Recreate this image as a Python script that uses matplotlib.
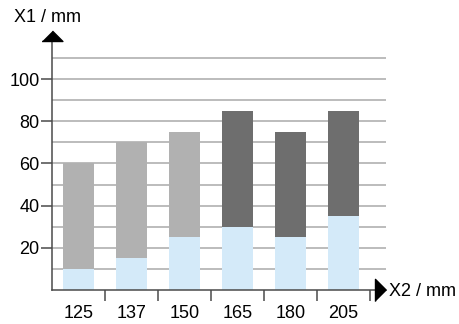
import matplotlib.pyplot as plt

plt.rcParams['font.family'] = ['Liberation Sans', 'DejaVu Sans']

categories = ['125', '137', '150', '165', '180', '205']
bottom_vals = [10, 15, 25, 30, 25, 35]
total_vals = [60, 70, 75, 85, 75, 85]
top_colors = ['#b1b1b1', '#b1b1b1', '#b1b1b1', '#6e6e6e', '#6e6e6e', '#6e6e6e']
grid_levels = [10, 20, 30, 40, 50, 60, 70, 80, 90, 100, 110]
y_ticks = [20, 40, 60, 80, 100]

fig = plt.figure(figsize=(4.59, 3.24), dpi=100)
ax = fig.add_axes([52 / 459, 34 / 324, 334 / 459, 253.2 / 324])

x = list(range(len(categories)))
top_vals = [t - b for t, b in zip(total_vals, bottom_vals)]

ax.hlines(grid_levels, -0.5, 5.8, color='#aaaaaa', lw=1.1, zorder=0)
ax.bar(x, bottom_vals, width=0.6, color='#d4eaf9', zorder=2)
ax.bar(x, top_vals, bottom=bottom_vals, width=0.6, color=top_colors, zorder=2)

ax.set_xlim(-0.5, 5.8)
ax.set_ylim(0, 120)
for s in ax.spines.values():
    s.set_visible(False)

axis_col = '#4a4a4a'
# axes with arrows
ax.plot([-0.5, -0.5], [0, 118], color=axis_col, lw=1.1, clip_on=False, zorder=3)
ax.plot([-0.5], [118], marker=[(-1, 0), (1, 0), (0, 1)], markersize=15,
        color='black', clip_on=False, zorder=4)
ax.plot([-0.5, 5.59], [0, 0], color=axis_col, lw=1.1, clip_on=False, zorder=3)
ax.plot([5.59], [0], marker=[(0, -1), (0, 1), (1, 0)], markersize=16,
        color='black', clip_on=False, zorder=4)

fs = 13
ax.set_yticks(y_ticks)
ax.set_yticklabels([str(v) for v in y_ticks])
ax.tick_params(axis='y', length=8, width=1.1, color=axis_col, labelsize=fs, pad=1)

ax.set_xticks(x)
ax.set_xticklabels(categories)
ax.tick_params(axis='x', which='major', length=0, pad=11, labelsize=fs)
ax.set_xticks([i + 0.5 for i in x], minor=True)
ax.tick_params(axis='x', which='minor', length=8, width=1.1, color=axis_col)

fig.text(14 / 459, 1 - 18 / 324, 'X1 / mm', fontsize=fs, va='center', ha='left')
fig.text(389 / 459, 1 - 292 / 324, 'X2 / mm', fontsize=fs, va='center', ha='left')

plt.savefig('out.png', dpi=100)
